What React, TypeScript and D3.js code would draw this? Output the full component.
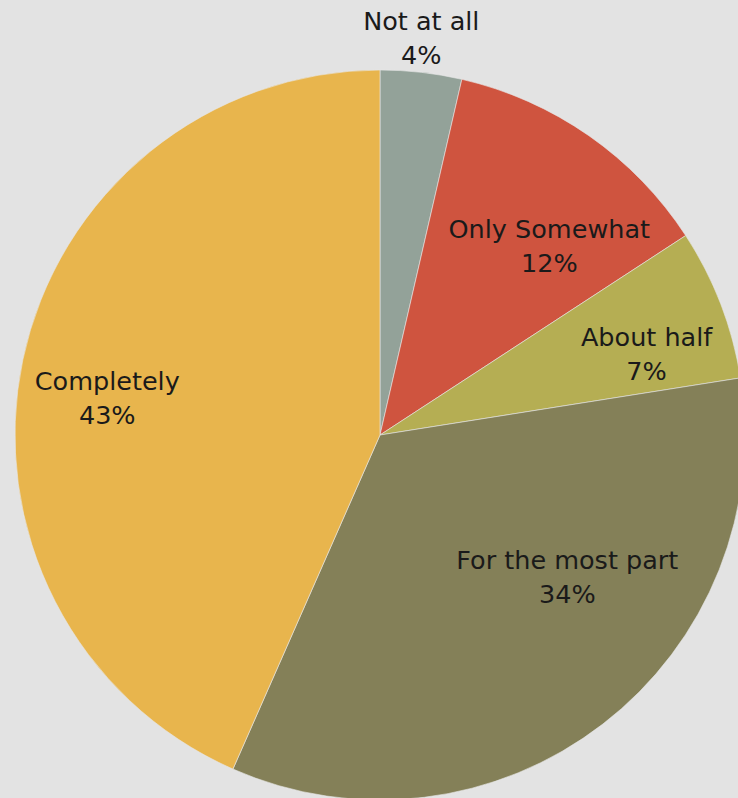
import React from "react";
import * as d3 from "d3";

const categories = ["Not at all", "Only Somewhat", "About half", "For the most part", "Completely"];
const values = [3.6, 12.2, 6.7, 34.1, 43.4];
const colors = ["#93a299", "#cf543f", "#b5ae53", "#848058", "#e8b54d"];

// label placement (angle in degrees clockwise from north, radius as fraction of pie radius)
const labelAngles = [5.9, 41.5, 72.7, 126.7, 278.2];
const labelRadii = [1.1, 0.7, 0.765, 0.64, 0.755];

const W = 738;
const H = 798;
const cx = 380;
const cy = 435;
const R = 365;

export default function App() {
  const total = d3.sum(values);
  const pie = d3.pie<number>().sort(null).value((d) => d);
  const arcs = pie(values);
  const arcGen = d3.arc<d3.PieArcDatum<number>>().innerRadius(0).outerRadius(R);
  const fmt = (v: number) => `${Math.round((v / total) * 100)}%`;

  return (
    <svg
      width={W}
      height={H}
      style={{ position: "fixed", left: 0, top: 0, display: "block" }}
      fontFamily="'DejaVu Sans', sans-serif"
    >
      <rect width={W} height={H} fill="#e3e3e3" />
      <g transform={`translate(${cx},${cy})`}>
        {arcs.map((a, i) => (
          <path key={i} d={arcGen(a) || ""} fill={colors[i]} stroke="#e8e8e8" strokeWidth={0.6} />
        ))}
        {arcs.map((a, i) => {
          const ang = (labelAngles[i] * Math.PI) / 180;
          const r = labelRadii[i] * R;
          const x = Math.sin(ang) * r;
          const y = -Math.cos(ang) * r;
          return (
            <text key={i} x={x} y={y} textAnchor="middle" fontSize={25.5} fill="#1a1a1a">
              <tspan x={x} dy="-0.22em">{categories[i]}</tspan>
              <tspan x={x} dy="1.33em">{fmt(values[i])}</tspan>
            </text>
          );
        })}
      </g>
    </svg>
  );
}
